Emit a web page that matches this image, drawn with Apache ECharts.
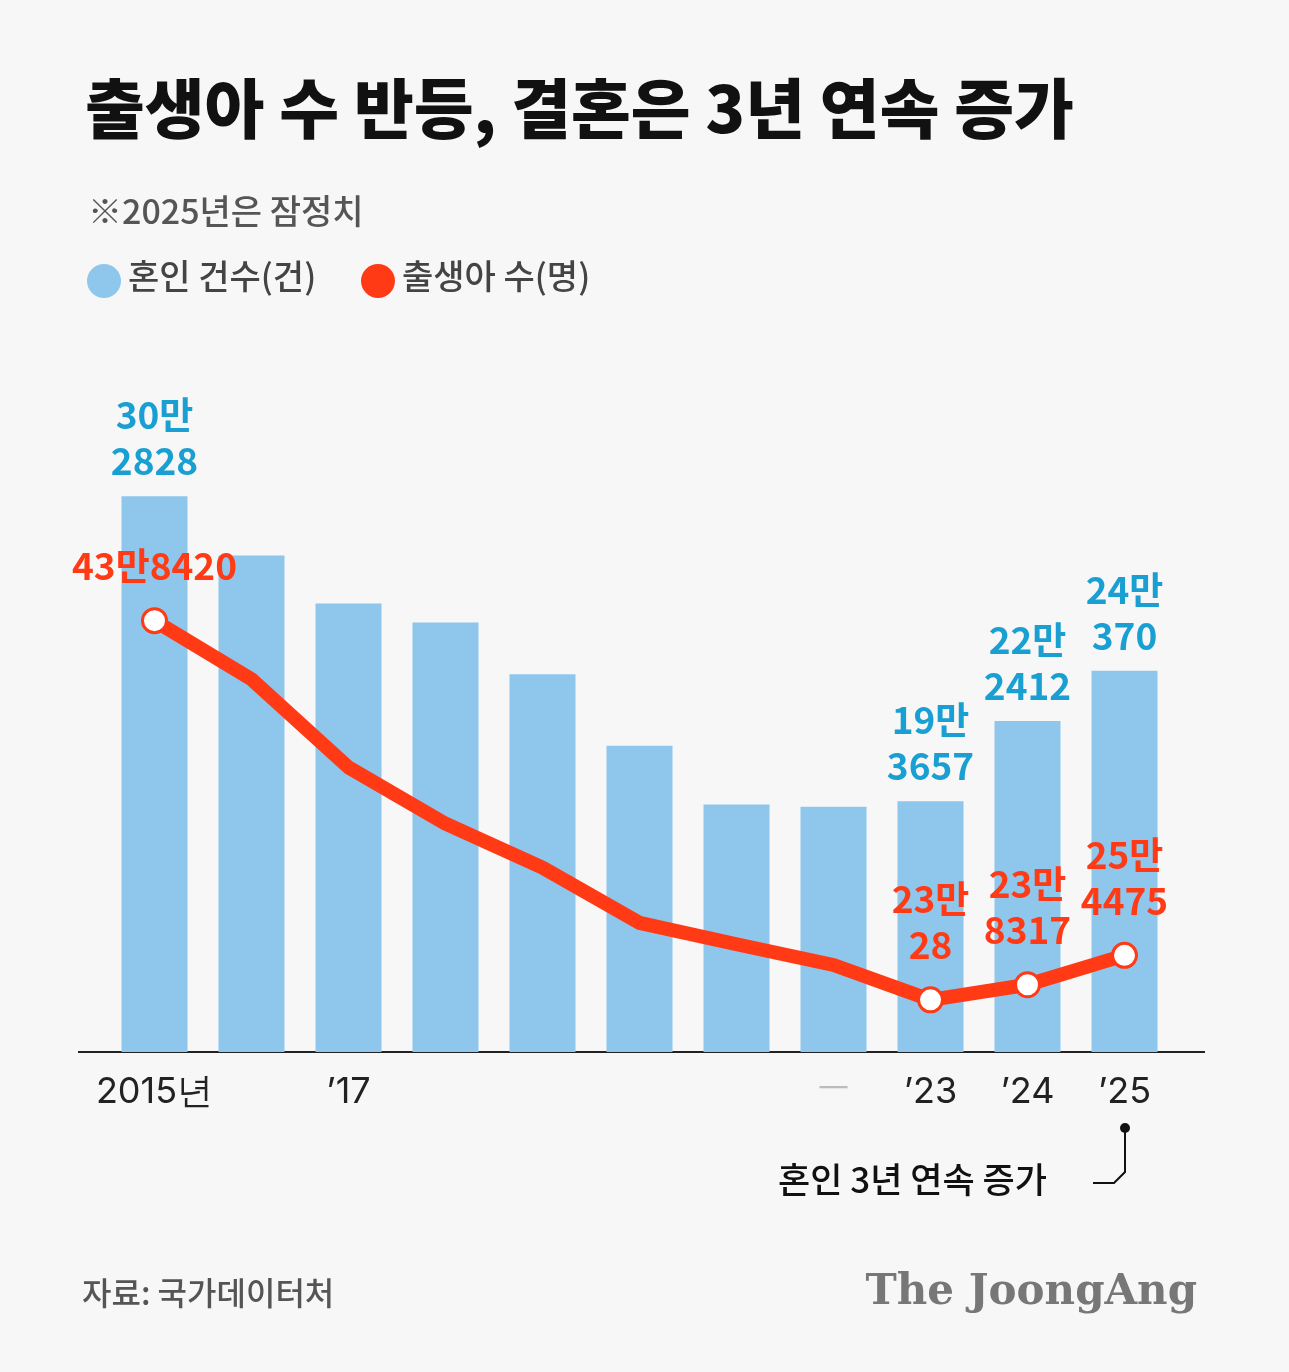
<!DOCTYPE html>
<html>
<head>
<meta charset="utf-8">
<script src="https://cdn.jsdelivr.net/npm/echarts@6/dist/echarts.min.js"></script>
<style>
  html, body { margin: 0; padding: 0; background: #f7f7f7; }
  #chart { width: 1289px; height: 1372px; }
</style>
</head>
<body>
<div id="chart"></div>
<script>
const years = ["2015", "2016", "2017", "2018", "2019", "2020", "2021", "2022", "2023", "2024", "2025"];
const tickLabels = ["2015년", "", "’17", "", "", "", "", "{d|—}", "’23", "’24", "’25"];
const marriages = [302828, 281635, 264455, 257622, 239159, 213502, 192507, 191690, 193657, 222412, 240370];
const births = [438420, 406243, 357771, 326822, 302676, 272337, 260562, 249186, 230028, 238317, 254475];
const labelled = [0, 8, 9, 10];

const FONT = "'Noto Sans CJK KR', sans-serif";
const toKo = (v, sep) => Math.floor(v / 10000) + "만" + sep + (v % 10000);

const chart = echarts.init(document.getElementById("chart"));
const option = {
  backgroundColor: "#f7f7f7",
  animation: false,
  textStyle: { fontFamily: FONT },
  grid: { left: 106, right: 116, top: 400, bottom: 320 },
  xAxis: {
    type: "category",
    data: years,
    axisLine: { show: false },
    axisTick: { show: false },
    axisLabel: {
      interval: 0, margin: 22, fontSize: 36, color: "#222", fontFamily: "Inter, sans-serif",
      formatter: (v, i) => tickLabels[i],
      rich: { d: { fontSize: 28, color: "#bbb" } }
    }
  },
  yAxis: [
    { type: "value", min: 103905, max: 337298, show: false },
    { type: "value", min: 201362, max: 559686, show: false }
  ],
  series: [
    {
      type: "bar",
      data: marriages,
      barWidth: 66,
      itemStyle: { color: "#8ec6ec" },
      label: {
        show: true, position: "top", distance: 12,
        fontSize: 37, fontWeight: "bold", color: "#1a9fd3", lineHeight: 46, fontFamily: FONT,
        formatter: p => labelled.includes(p.dataIndex) ? toKo(p.value, "\n") : ""
      }
    },
    {
      type: "line",
      yAxisIndex: 1,
      data: births.map((v, i) => ({
        value: v,
        symbolSize: labelled.includes(i) ? 24 : 0,
        label: {
          show: labelled.includes(i),
          formatter: i === 0 ? toKo(v, "") : toKo(v, "\n")
        }
      })),
      symbol: "circle",
      lineStyle: { color: "#ff3a14", width: 14, join: "round" },
      itemStyle: { color: "#ffffff", borderColor: "#ff3a14", borderWidth: 3 },
      label: {
        position: "top", distance: 18,
        fontSize: 37, fontWeight: "bold", color: "#ff3a14", lineHeight: 46, fontFamily: FONT
      },
      z: 5
    }
  ],
  graphic: [
    { type: "text", left: 85, top: 76, style: { text: "출생아 수 반등, 결혼은 3년 연속 증가", font: "900 65px " + FONT, fill: "#111" } },
    { type: "text", left: 88, top: 194, style: { text: "※2025년은 잠정치", font: "500 34px " + FONT, fill: "#555" } },
    { type: "circle", shape: { cx: 104, cy: 281, r: 17 }, style: { fill: "#8ec6ec" } },
    { type: "text", left: 128, top: 259, style: { text: "혼인 건수(건)", font: "500 34px " + FONT, fill: "#444" } },
    { type: "circle", shape: { cx: 378, cy: 281, r: 17 }, style: { fill: "#ff3a14" } },
    { type: "text", left: 402, top: 259, style: { text: "출생아 수(명)", font: "500 34px " + FONT, fill: "#444" } },
    { type: "line", shape: { x1: 78, y1: 1052, x2: 1205, y2: 1052 }, style: { stroke: "#222", lineWidth: 2 } },
    { type: "circle", shape: { cx: 1125, cy: 1128, r: 5 }, style: { fill: "#111" } },
    { type: "polyline", shape: { points: [[1125, 1128], [1125, 1172], [1114, 1183], [1093, 1183]] }, style: { stroke: "#111", lineWidth: 2, fill: null } },
    { type: "text", left: 778, top: 1162, style: { text: "혼인 3년 연속 증가", font: "500 35px " + FONT, fill: "#111" } },
    { type: "text", left: 82, top: 1277, style: { text: "자료: 국가데이터처", font: "500 32px " + FONT, fill: "#555" } },
    { type: "text", right: 92, top: 1272, style: { text: "The JoongAng", font: "bold 42px 'DejaVu Serif', serif", fill: "#777" } }
  ]
};
chart.setOption(option);
</script>
</body>
</html>
